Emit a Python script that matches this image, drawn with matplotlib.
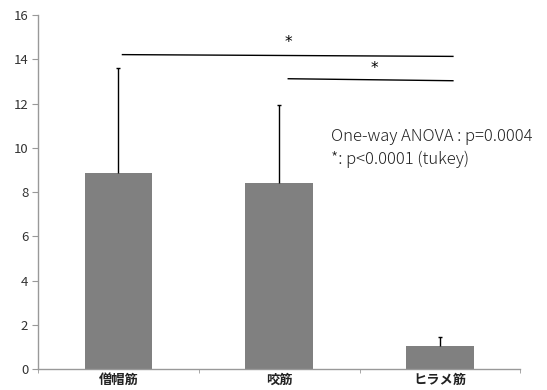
import matplotlib
matplotlib.use("Agg")
import matplotlib.pyplot as plt
import numpy as np

plt.rcParams['font.family'] = ['Noto Sans CJK JP', 'DejaVu Sans']

categories = ['僧帽筋', '咬筋', 'ヒラメ筋']
means = [8.87, 8.4, 1.05]
sd = [4.73, 3.55, 0.4]
yticks = [0, 2, 4, 6, 8, 10, 12, 14, 16]

fig = plt.figure(figsize=(5.47, 3.9), dpi=100)
ax = fig.add_axes([0.0695, 0.0538, 0.882, 0.9077])
x = np.arange(len(categories))
ax.bar(x, means, width=0.42, color='#808080', zorder=2)
tops = np.array(means) + np.array(sd)
ax.vlines(x, means, tops, color='black', lw=1.0, zorder=3)
ax.hlines(tops, x - 0.012, x + 0.012, color='black', lw=1.0, zorder=3)

ax.set_xlim(-0.5, 2.5)
ax.set_ylim(0, 16)
ax.set_yticks(yticks)
ax.set_yticklabels([str(v) for v in yticks], fontsize=9.5, color='#333333')
ax.set_xticks(x)
ax.set_xticklabels(categories, fontsize=9.5, fontweight='bold', color='#222222')
ax.tick_params(axis='x', length=0, pad=3)
ax.set_xticks([-0.5, 0.5, 1.5, 2.5], minor=True)
ax.tick_params(axis='x', which='minor', length=3, color='#999999')
ax.tick_params(axis='y', length=4, color='#999999', pad=3)
for s in ['top', 'right']:
    ax.spines[s].set_visible(False)
for s in ['left', 'bottom']:
    ax.spines[s].set_color('#999999')
    ax.spines[s].set_linewidth(1.0)

# significance lines
ax.plot([0.025, 2.08], [14.21, 14.13], color='black', lw=1.0, clip_on=False)
ax.plot([1.056, 2.08], [13.12, 13.03], color='black', lw=1.0, clip_on=False)
ax.text(1.056, 14.75, '*', ha='center', va='center', fontsize=11, family='DejaVu Sans')
ax.text(1.59, 13.6, '*', ha='center', va='center', fontsize=11, family='DejaVu Sans')

ax.text(1.32, 10.5, 'One-way ANOVA : p=0.0004', ha='left', va='center', fontsize=12,
        color='#222222', fontweight='light')
ax.text(1.32, 9.46, '*: p<0.0001 (tukey)', ha='left', va='center', fontsize=12,
        color='#222222', fontweight='light')

fig.savefig('out.png', dpi=100)
